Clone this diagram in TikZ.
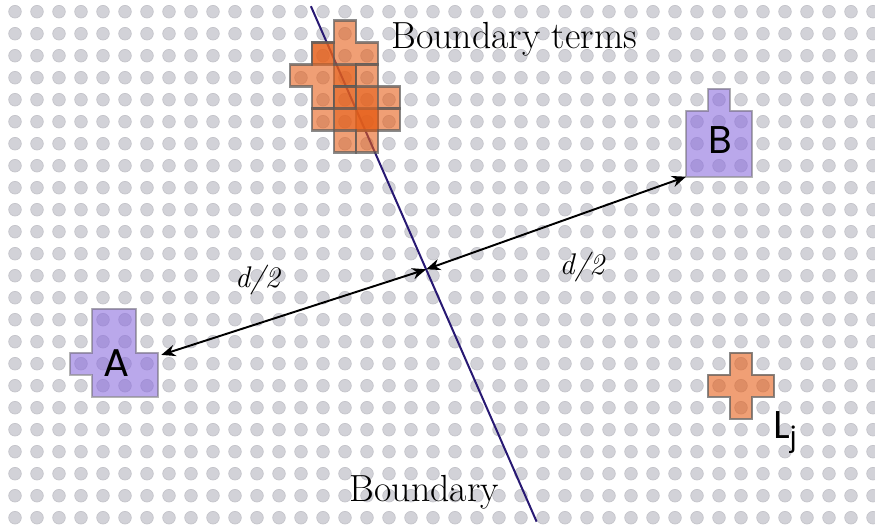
\documentclass[tikz,border=0pt]{standalone}
\usepackage{fontspec}
\usepackage{tikz}
\usetikzlibrary{arrows.meta}
\newfontfamily\geofont{Poppins}

\definecolor{dotgray}{RGB}{210,210,216}
\definecolor{dotedge}{RGB}{196,196,202}
\definecolor{termorange}{RGB}{230,95,25}
\definecolor{sitepurple}{RGB}{140,110,222}
\definecolor{edgegray}{RGB}{90,90,90}
\definecolor{boundblue}{RGB}{40,25,115}

\tikzset{
  griddot/.style={fill=dotgray, draw=dotedge, line width=0.4pt},
  termpiece/.style={fill=termorange, fill opacity=0.6, draw=edgegray, draw opacity=0.7, line width=0.045cm},
  sitepiece/.style={fill=sitepurple, fill opacity=0.6, draw=edgegray, draw opacity=0.45, line width=0.045cm},
  halfdist/.style={line width=1.1pt, <->, >={Stealth[length=8pt, width=6.5pt]}},
  sitelbl/.style={font=\geofont\fontsize{22}{26}\selectfont},
}

\begin{document}
\begin{tikzpicture}[x=0.44cm, y=-0.44cm]
        \useasboundingbox (-0.682,-0.532) rectangle (39.091,23.514);

        % Lattice
        \foreach \i in {0,...,39} \foreach \j in {0,...,23} \draw[griddot] (\i,\j) circle (0.126cm);

        % Boundary
        \coordinate (btop) at (13.45,-0.25);
        \coordinate (bbot) at (23.71,23.18);
        \draw[boundblue, line width=0.04cm] (btop) -- (bbot);
        \coordinate (mid) at (18.69,11.71);

        % Boundary terms
        \foreach \cx/\cy in {15/2, 14/3, 16/4, 15/5, 16/5}
          \draw[termpiece, shift={(\cx,\cy-0.1)}] (-0.5,-1.5) -- (0.5,-1.5) -- (0.5,-0.5) -- (1.5,-0.5) -- (1.5,0.5) -- (0.5,0.5)
            -- (0.5,1.5) -- (-0.5,1.5) -- (-0.5,0.5) -- (-1.5,0.5) -- (-1.5,-0.5) -- (-0.5,-0.5) -- cycle;

        % L_j
        \draw[termpiece, shift={(33,17)}] (-0.5,-1.5) -- (0.5,-1.5) -- (0.5,-0.5) -- (1.5,-0.5) -- (1.5,0.5) -- (0.5,0.5)
            -- (0.5,1.5) -- (-0.5,1.5) -- (-0.5,0.5) -- (-1.5,0.5) -- (-1.5,-0.5) -- (-0.5,-0.5) -- cycle;

        % Regions A and B
        \draw[sitepiece] (3.5,13.5) -- (5.5,13.5) -- (5.5,15.5) -- (6.5,15.5) -- (6.5,17.5) -- (3.5,17.5) -- (3.5,16.5)
            -- (2.5,16.5) -- (2.5,15.5) -- (3.5,15.5) -- cycle;
        \draw[sitepiece] (31.5,3.5) -- (32.5,3.5) -- (32.5,4.5) -- (33.5,4.5) -- (33.5,7.5) -- (30.5,7.5) -- (30.5,4.5)
            -- (31.5,4.5) -- cycle;
        \coordinate (aEnd) at (6.65,15.6);
        \coordinate (bEnd) at (30.5,7.5);

        % Distances
        \draw[halfdist] (aEnd) -- (mid);
        \draw[halfdist] (mid) -- (bEnd);
        \node (dA) at (11.05,12.2) {\fontsize{17}{20}\selectfont\textit{d/2}};
        \node (dB) at (25.8,11.6) {\fontsize{17}{20}\selectfont\textit{d/2}};

        % Labels
        \node[sitelbl] (labA) at (4.62,15.98) {A};
        \node[sitelbl] (labB) at (32.08,5.83) {B};
        \node[sitelbl, anchor=base west, inner sep=0pt] (labL) at (34.45,19.38) {L\textsubscript{j}};
        \node[anchor=base west, inner sep=0pt, font=\fontsize{21.5}{25}\selectfont] (termsLbl) at (17.1,1.66) {Boundary terms};
        \node[anchor=base west, inner sep=0pt, font=\fontsize{21.5}{25}\selectfont] (boundLbl) at (15.2,22.27) {Boundary};
    \end{tikzpicture}
\end{document}
